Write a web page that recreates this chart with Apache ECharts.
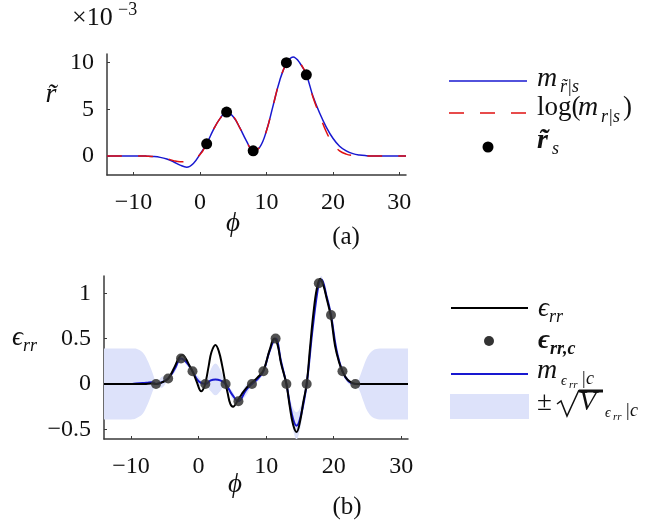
<!DOCTYPE html>
<html>
<head>
<meta charset="utf-8">
<script src="https://cdn.jsdelivr.net/npm/echarts@6/dist/echarts.min.js"></script>
<style>
  html, body { margin: 0; padding: 0; background: #fff; }
  #main { width: 672px; height: 525px; }
</style>
</head>
<body>
<div id="main"></div>
<script>
// (a) top panel, values in units of 1e-3
var phiA = [-14, -9, -8, -7, -6, -5, -4, -3, -2, -1, 0, 1, 2, 3, 4, 5, 6, 7, 8, 9, 10,
            11, 12, 13, 14, 15, 16, 17, 18, 19, 20, 21, 22, 23, 24, 25, 26, 31];
var mA   = [0, 0, -0.02, -0.06, -0.15, -0.33, -0.62, -0.98, -1.2, -0.8, 0.2, 1.3, 2.8, 4.0, 4.7, 4.2, 3.0, 1.6, 0.6, 0.95, 2.7,
            5.4, 8.1, 9.9, 10.6, 10.0, 8.7, 6.4, 4.6, 3.1, 1.9, 1.05, 0.55, 0.25, 0.1, 0.03, 0, 0];
var logA = [0, 0, -0.02, -0.06, -0.15, -0.3, -0.5, -0.62, -0.55, -0.25, 0.15, 1.3, 2.8, 4.0, 4.7, 4.25, 3.0, 1.55, 0.6, 0.95, 2.7,
            5.4, 8.1, 9.9, 10.55, 10.0, 8.7, 6.3, 4.4, 2.6, 1.3, 0.55, 0.2, 0.05, 0, 0, 0, 0];
var phiS = [1, 4, 8, 13, 16];
var rS   = [1.3, 4.7, 0.55, 10.0, 8.7];

// (b) bottom panel
var phiE = [-14, -8, -7, -6.3, -5.5, -4.5, -3.6, -2.9, -2.4, -1.9, -1.4, -0.9, -0.3, 0.4, 0.8, 1.1, 1.5, 1.9, 2.5, 3.0,
            3.5, 3.9, 4.3, 4.7, 5.1, 5.8, 6.4, 7.0, 7.8, 8.7, 9.6, 10.5, 11.2, 11.7, 12.2, 13.0, 13.5, 14.0, 14.5, 15.0,
            15.5, 16.0, 16.5, 17.0, 17.5, 18.0, 18.5, 19.0, 19.6, 20.2, 20.8, 21.3, 22.0, 22.8, 23.5, 31];
var epsE = [0, 0, 0.005, 0, 0.015, 0.06, 0.18, 0.29, 0.32, 0.28, 0.21, 0.14, 0.03, -0.08, -0.04, 0.04, 0.2, 0.35, 0.43, 0.36,
            0.2, 0.04, -0.1, -0.22, -0.25, -0.18, -0.11, -0.05, 0.01, 0.07, 0.15, 0.37, 0.5, 0.43, 0.23, 0, -0.25, -0.45, -0.53, -0.42,
            -0.2, 0, 0.4, 0.78, 1.05, 1.16, 1.08, 0.93, 0.74, 0.42, 0.24, 0.14, 0.05, 0.01, 0, 0];
var phiB  = [-14, -10, -9.3, -8.3, -7.6, -7.0, -6.6, -6.3, -5.4, -4.5, -3.5, -2.6, -1.7, -0.9, 0.0, 1.0, 1.8, 2.5, 3.2, 4.0,
             5.0, 5.9, 7.0, 7.9, 8.8, 9.6, 10.5, 11.4, 12.2, 13.0, 13.8, 14.5, 15.2, 16.0, 16.9, 17.8, 18.2, 18.9, 19.6, 20.4,
             21.3, 22.2, 23.2, 23.8, 24.3, 25.0, 25.8, 26.8, 31];
var meanB = [0, 0, 0.005, 0.01, 0.015, 0.02, 0.015, 0, 0.02, 0.06, 0.17, 0.28, 0.23, 0.14, 0.03, 0, 0.04, 0.05, 0.04, 0,
             -0.12, -0.19, -0.07, 0, 0.06, 0.14, 0.36, 0.5, 0.25, 0, -0.33, -0.46, -0.33, 0, 0.62, 1.11, 1.15, 0.98, 0.76, 0.38,
             0.14, 0.03, 0, 0, 0, 0, 0, 0, 0];
var sdB   = [0.39, 0.39, 0.385, 0.34, 0.25, 0.14, 0.06, 0.01, 0.06, 0.01, 0.04, 0.01, 0.03, 0.01, 0.05, 0.01, 0.12, 0.175, 0.12, 0.01,
             0.04, 0.01, 0.06, 0.01, 0.03, 0.01, 0.03, 0.01, 0.03, 0.01, 0.1, 0.15, 0.1, 0.01, 0.04, 0.01, 0.04, 0.03, 0.01, 0.04,
             0.01, 0.03, 0.005, 0.07, 0.17, 0.3, 0.37, 0.39, 0.39];
var phiC = [-6.3, -4.5, -2.6, -0.9, 1.0, 4.0, 5.9, 7.9, 9.6, 11.4, 13.0, 16.0, 17.8, 19.6, 21.3, 23.2];
var epsC = [0, 0.06, 0.28, 0.14, 0, 0, -0.19, 0, 0.14, 0.5, 0, 0, 1.11, 0.76, 0.14, 0];

var xTicks  = [-10, 0, 10, 20, 30];
var yTicksA = [0, 5, 10];
var yTicksB = [-0.5, 0, 0.5, 1];

function zip(xs, ys) {
    var out = [];
    for (var i = 0; i < xs.length; i++) out.push([xs[i], ys[i]]);
    return out;
}
function minus(v) {
    return v < 0 ? '\u2212' + Math.abs(v) : String(v);
}

var SERIF = '"Liberation Serif", "DejaVu Serif", serif';
var AX = '#3a3a3a';
var BLUE = '#1818d0', RED = '#e01010', BAND = '#dde2fa';

function mkX(grid) {
    return {
        type: 'value', gridIndex: grid, min: -14, max: 31,
        axisLine: { show: true, onZero: false, lineStyle: { color: AX, width: 1.5 } },
        axisTick: { show: true, inside: true, length: 3, customValues: xTicks, lineStyle: { color: AX } },
        axisLabel: { customValues: xTicks, formatter: minus, margin: 16,
                     fontFamily: SERIF, fontSize: 24, color: '#111' },
        splitLine: { show: false }
    };
}
function mkY(grid, min, max, ticks) {
    return {
        type: 'value', gridIndex: grid, min: min, max: max,
        axisLine: { show: true, onZero: false, lineStyle: { color: AX, width: 1.5 } },
        axisTick: { show: true, inside: true, length: 3, customValues: ticks, lineStyle: { color: AX } },
        axisLabel: { customValues: ticks, formatter: minus, margin: 13,
                     fontFamily: SERIF, fontSize: 24, color: '#111' },
        splitLine: { show: false }
    };
}

// confidence band mean +/- sd, drawn as one polygon through the axes
function renderBand(params, api) {
    var up = [], lo = [];
    for (var i = 0; i < phiB.length; i++) {
        up.push(api.coord([phiB[i], meanB[i] + sdB[i]]));
        lo.push(api.coord([phiB[i], meanB[i] - sdB[i]]));
    }
    // pad past both ends so the closing edges fall outside the clip
    var n = up.length;
    up.unshift([up[0][0] - 30, up[0][1]]);
    lo.unshift([lo[0][0] - 30, lo[0][1]]);
    up.push([up[n][0] + 30, up[n][1]]);
    lo.push([lo[n][0] + 30, lo[n][1]]);
    var cs = params.coordSys;
    return {
        type: 'polygon',
        shape: { points: up.concat(lo.reverse()), smooth: 0.35 },
        style: { fill: BAND },
        clipPath: { type: 'rect', shape: { x: cs.x, y: cs.y, width: cs.width, height: cs.height } }
    };
}

function t(x, y, str, size, opts) {
    opts = opts || {};
    return {
        type: 'text', x: x, y: y, silent: true, z: 10,
        style: {
            text: str,
            font: (opts.italic ? 'italic ' : '') + (opts.bold ? 'bold ' : '') + size + 'px ' + SERIF,
            fill: '#111', align: opts.align || 'left', verticalAlign: 'middle'
        }
    };
}

var graphics = [
    // axis names
    t(72, 18, '\u00d710', 26), t(118, 10, '\u22123', 18),
    t(51, 95, 'r\u0303', 28, { italic: true, align: 'center' }),
    t(233, 224, '\u03d5', 27, { italic: true, align: 'center' }),
    t(346, 237, '(a)', 25, { align: 'center' }),
    t(12, 338, '\u03f5', 27, { italic: true }), t(23, 346, 'rr', 18, { italic: true }),
    t(235, 485, '\u03d5', 27, { italic: true, align: 'center' }),
    t(347, 507, '(b)', 25, { align: 'center' }),

    // legend (a)
    { type: 'line', shape: { x1: 449, y1: 81, x2: 527, y2: 81 }, style: { stroke: BLUE, lineWidth: 1.5 } },
    t(537, 79, 'm', 28, { italic: true }), t(560, 87, 'r\u0303|s', 18, { italic: true }),
    { type: 'line', shape: { x1: 449, y1: 113, x2: 527, y2: 113 }, style: { stroke: RED, lineWidth: 1.5, lineDash: [15, 16] } },
    t(537, 108, 'log(', 27), t(578, 108, 'm', 28, { italic: true }), t(601, 117, 'r|s', 18, { italic: true }),
    t(623, 108, ')', 27),
    { type: 'circle', shape: { cx: 488, cy: 147, r: 5.5 }, style: { fill: '#000' } },
    t(537, 141, 'r\u0303', 28, { italic: true, bold: true }), t(552, 149, 's', 18, { italic: true }),

    // legend (b)
    { type: 'line', shape: { x1: 451, y1: 308, x2: 528, y2: 308 }, style: { stroke: '#000', lineWidth: 2 } },
    t(538, 309, '\u03f5', 27, { italic: true }), t(549, 317, 'rr', 18, { italic: true }),
    { type: 'circle', shape: { cx: 489, cy: 341, r: 5 }, style: { fill: '#333' } },
    t(538, 341, '\u03f5', 27, { italic: true, bold: true }), t(550, 349, 'rr,c', 18, { italic: true, bold: true }),
    { type: 'line', shape: { x1: 451, y1: 374, x2: 528, y2: 374 }, style: { stroke: BLUE, lineWidth: 2 } },
    t(537, 371, 'm', 28, { italic: true }), t(561, 381, '\u03f5', 14, { italic: true }),
    t(569, 385, 'rr', 11, { italic: true }), t(581, 379, '|c', 18, { italic: true }),
    { type: 'rect', shape: { x: 450, y: 394, width: 79, height: 25 }, style: { fill: BAND } },
    t(537, 403, '\u00b1', 27),
    { type: 'polyline', shape: { points: [[557, 404], [561, 401], [567, 416], [579, 390]] },
      style: { stroke: '#111', lineWidth: 1.5, fill: null } },
    { type: 'line', shape: { x1: 579, y1: 391, x2: 603, y2: 391 }, style: { stroke: '#111', lineWidth: 3 } },
    t(579, 403, 'V', 28, { italic: true }), t(605, 413, '\u03f5', 14, { italic: true }),
    t(613, 417, 'rr', 11, { italic: true }), t(625, 411, '|c', 18, { italic: true })
];

var myChart = echarts.init(document.getElementById('main'), null, { renderer: 'canvas' });
var option = {
    animation: false,
    backgroundColor: '#fff',
    grid: [
        { left: 107, top: 54, width: 299, height: 121 },
        { left: 104, top: 276, width: 304, height: 163 }
    ],
    xAxis: [mkX(0), mkX(1)],
    yAxis: [mkY(0, -2.04, 10.93, yTicksA), mkY(1, -0.606, 1.19, yTicksB)],
    series: [
        {
            name: 'm', type: 'line', xAxisIndex: 0, yAxisIndex: 0, data: zip(phiA, mA), z: 2,
            smooth: 0.4, showSymbol: false, lineStyle: { color: BLUE, width: 1.5 }
        },
        {
            name: 'log', type: 'line', xAxisIndex: 0, yAxisIndex: 0, data: zip(phiA, logA), z: 3,
            smooth: 0.4, showSymbol: false, lineStyle: { color: RED, width: 1.5, type: [15, 16] }
        },
        {
            name: 'rs', type: 'scatter', xAxisIndex: 0, yAxisIndex: 0, data: zip(phiS, rS), z: 5,
            symbolSize: 11, itemStyle: { color: '#000', opacity: 1 }
        },
        {
            name: 'band', type: 'custom', xAxisIndex: 1, yAxisIndex: 1, data: [[0, 0]], z: 1,
            renderItem: renderBand, silent: true
        },
        {
            name: 'mean', type: 'line', xAxisIndex: 1, yAxisIndex: 1, data: zip(phiB, meanB), z: 2,
            smooth: 0.4, showSymbol: false, lineStyle: { color: BLUE, width: 2 }
        },
        {
            name: 'eps', type: 'line', xAxisIndex: 1, yAxisIndex: 1, data: zip(phiE, epsE), z: 3,
            smooth: 0.4, showSymbol: false, lineStyle: { color: '#000', width: 2 }
        },
        {
            name: 'epsc', type: 'scatter', xAxisIndex: 1, yAxisIndex: 1, data: zip(phiC, epsC), z: 5,
            symbolSize: 10, itemStyle: { color: '#333', opacity: 0.85 }
        }
    ],
    graphic: graphics
};
myChart.setOption(option);
</script>
</body>
</html>
